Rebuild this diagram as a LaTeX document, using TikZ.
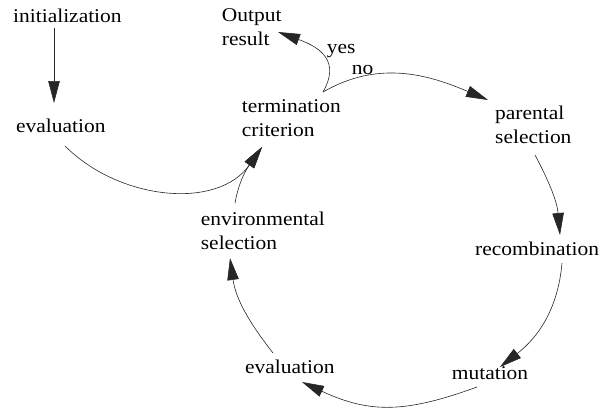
\documentclass[tikz,border=0pt]{standalone}
\usepackage{fontspec}
\setmainfont{Liberation Serif}[FakeStretch=1.1]
\usetikzlibrary{arrows.meta}

\tikzset{
  lbl/.style={anchor=base west, inner sep=0pt, align=left,
    font=\fontsize{19.5}{24}\selectfont},
  flow/.style={line width=0.6pt, draw=black!85,
    -{Triangle[length=22pt, width=11.5pt]}},
}

\begin{document}
\begin{tikzpicture}[x=1pt, y=-1pt]
  \useasboundingbox (0,0) rectangle (600,410);

  % stages of the evolutionary cycle (base = baseline of the last line)
  \node[lbl] (init)  at (13,22.7)    {initialization};
  \node[lbl] (eval1) at (16,132.7)   {evaluation};
  \node[lbl] (out)   at (221.7,45)   {Output\\result};
  \node[lbl] (term)  at (241.7,136.7){termination\\criterion};
  \node[lbl] (par)   at (495,143.3)  {parental\\selection};
  \node[lbl] (rec)   at (475,255)    {recombination};
  \node[lbl] (mut)   at (451.7,379.3){mutation};
  \node[lbl] (eval2) at (245,373.3)  {evaluation};
  \node[lbl] (env)   at (200.7,249.3){environmental\\selection};

  % branch labels of the termination test
  \node[lbl] (yes) at (326.7,53.3) {yes};
  \node[lbl] (no)  at (351.7,74)   {no};

  % start-up
  \draw[flow] ([shift={(41,5.3)}]init.base west) -- ([shift={(38,-29.7)}]eval1.base west);
  \draw[flow] ([shift={(49,13.3)}]eval1.base west) to[out=-45, in=235]
              ([shift={(20.3,10.3)}]term.base west);

  % termination test
  \draw[flow] ([shift={(81.3,-44.7)}]term.base west)
              .. controls +(17,-30) and +(44,16) .. ([shift={(56.3,-13)}]out.base west);
  \draw[flow] ([shift={(81.3,-44.7)}]term.base west) to[out=30, in=157]
              ([shift={(-7,-43.3)}]par.base west);

  % main loop
  \draw[flow] ([shift={(40,11.7)}]par.base west) to[out=-62, in=95]
              ([shift={(85,-20)}]rec.base west);
  \draw[flow] ([shift={(87,8)}]rec.base west) to[out=-95, in=38]
              ([shift={(48.3,-12.3)}]mut.base west);
  \draw[flow] ([shift={(25.3,7.7)}]mut.base west) to[out=-160, in=-25, looseness=1.1]
              ([shift={(57,8.7)}]eval2.base west);
  \draw[flow] ([shift={(28,-20.3)}]eval2.base west) to[out=128, in=-82]
              ([shift={(29.3,8.7)}]env.base west);
  \draw[flow] ([shift={(34.3,-46.3)}]env.base west) to[out=80, in=235]
              ([shift={(20.3,10.3)}]term.base west);
\end{tikzpicture}
\end{document}
